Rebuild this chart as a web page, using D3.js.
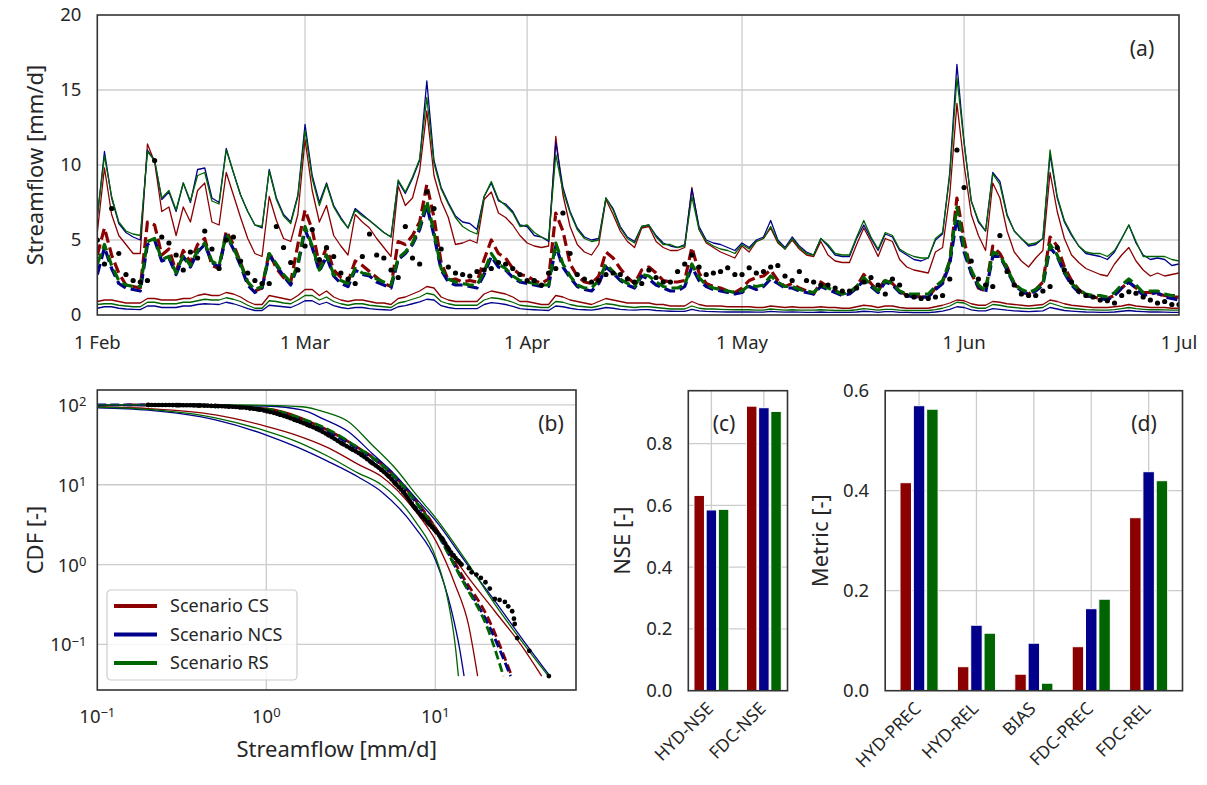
<!DOCTYPE html>
<html lang="en">
<head>
<meta charset="utf-8">
<title>Streamflow scenarios</title>
<script src="https://cdnjs.cloudflare.com/ajax/libs/d3/7.8.5/d3.min.js"></script>
<style>
  body { margin: 0; background: #fff; }
  svg text { font-family: "Noto Sans", "Open Sans", sans-serif; fill: #262626; }
</style>
</head>
<body>
<div id="chart"></div>
<script>
// ---------- data: daily streamflow, 1 Feb .. 1 Jul (mm/d) ----------
var startDate = new Date(Date.UTC(2016, 1, 1));
var endDate = new Date(Date.UTC(2016, 6, 1));

var hiRed = [5.5,9.8,6.7,5.3,4.7,4.1,4.1,11.4,10.2,6.9,
 7.2,5.3,7.2,6.2,8.3,8.8,6.2,6.0,9.5,8.0,
 6.5,5.1,4.1,3.9,7.9,6.3,5.1,4.9,6.7,11.7,
 8.3,6.2,7.3,5.3,4.6,4.0,6.7,6.2,5.8,5.1,
 4.5,3.9,8.6,7.3,7.8,9.6,13.6,9.3,7.6,6.5,
 4.7,4.8,5.0,4.8,7.7,8.2,6.8,6.5,6.0,5.3,
 4.8,4.6,4.5,4.6,11.9,8.0,5.9,4.7,4.2,4.0,
 4.7,7.7,6.7,5.6,4.9,4.5,5.8,5.9,4.9,4.5,
 4.3,4.3,4.5,8.5,5.7,4.8,4.5,4.2,4.0,3.8,
 4.6,4.2,4.9,5.1,5.8,4.8,4.4,5.0,4.4,4.0,
 3.9,4.9,4.0,3.6,3.5,3.5,4.7,5.8,4.9,3.9,
 5.1,4.9,3.7,3.2,3.0,2.9,2.8,4.2,4.5,8.0,
 14.1,10.0,6.7,5.3,4.3,8.8,7.8,5.6,4.2,3.6,
 3.2,3.8,4.3,9.5,6.9,5.1,4.0,3.5,3.1,2.9,
 2.7,2.6,3.4,4.0,4.5,3.6,3.0,2.6,2.8,2.6,
 2.7,2.8];
var hiBlue = [6.5,10.9,7.8,6.1,5.5,5.2,5.0,11.0,10.3,7.7,
 8.2,6.9,8.8,7.5,9.7,9.8,7.8,7.5,11.1,9.5,
 8.0,6.9,6.0,5.8,9.7,7.8,6.7,6.2,8.0,12.7,
 9.3,7.5,8.8,7.3,6.5,5.8,7.1,6.7,6.3,5.9,
 5.5,5.2,8.9,8.1,9.1,10.3,15.6,10.3,8.5,7.5,
 6.6,6.2,6.1,5.7,7.9,8.8,7.6,7.4,6.9,6.0,
 5.9,5.3,5.2,4.9,11.5,8.5,6.9,5.8,5.2,5.0,
 5.1,7.8,7.1,5.9,5.2,4.9,5.9,6.0,5.3,4.8,
 4.6,4.5,4.7,8.4,5.9,5.0,4.8,4.7,4.5,4.3,
 4.8,4.5,5.0,5.2,6.3,5.0,4.5,5.2,4.6,4.2,
 4.0,5.1,4.6,4.0,3.9,3.9,5.1,6.0,5.1,4.3,
 5.4,5.2,4.3,4.0,3.7,3.6,3.8,5.0,5.4,9.5,
 16.7,11.5,7.6,6.2,5.6,9.5,8.9,6.7,5.6,5.1,
 4.6,4.7,5.1,10.7,7.8,6.2,5.3,4.6,4.1,4.0,
 3.9,3.7,4.2,5.1,6.0,4.8,4.0,3.7,3.8,3.7,
 3.3,3.4];
var hiGreen = [6.6,10.6,7.9,6.2,5.6,5.4,5.3,10.9,10.3,7.8,
 8.3,7.0,8.8,7.6,9.3,9.5,7.6,7.4,11.0,9.5,
 8.0,6.9,6.0,5.9,9.6,7.7,6.6,6.1,7.9,12.3,
 9.1,7.3,8.7,7.2,6.4,5.8,7.0,6.6,6.3,5.9,
 5.5,5.2,9.0,8.2,9.2,10.4,14.5,10.1,8.4,7.4,
 6.5,5.9,5.6,5.4,7.9,8.9,7.7,7.3,6.8,5.9,
 6.0,5.5,5.2,5.0,10.7,8.3,6.8,5.7,5.1,4.9,
 5.0,7.8,7.0,5.8,5.1,4.8,5.9,6.0,5.2,4.7,
 4.7,4.5,4.6,7.9,5.7,4.9,4.6,4.4,4.3,4.1,
 4.7,4.4,4.9,5.1,5.9,4.9,4.4,5.1,4.5,4.1,
 4.0,5.1,4.7,4.1,4.0,4.0,5.2,6.3,5.2,4.4,
 5.5,5.3,4.4,4.1,3.9,3.8,3.8,5.1,5.5,9.3,
 15.8,11.5,7.6,6.3,5.6,9.4,8.7,6.6,5.6,5.1,
 4.7,4.8,5.1,11.0,7.9,6.3,5.4,4.6,4.2,4.1,
 4.1,3.9,4.3,5.1,6.0,4.9,3.9,3.9,3.9,3.9,
 3.7,3.6];

var medRed = [4.0,5.8,4.0,2.8,2.0,1.9,1.8,6.2,6.0,4.0,
 4.4,2.9,4.3,3.5,4.7,5.1,3.3,3.1,5.6,4.7,
 3.5,2.2,1.6,1.8,4.2,3.1,2.5,2.2,4.7,7.0,
 5.7,3.3,4.5,3.0,2.5,2.2,3.6,3.3,2.9,2.5,
 2.1,1.9,4.9,4.7,5.3,6.2,8.7,6.5,3.5,2.3,
 2.4,2.2,2.3,2.2,3.7,5.0,4.1,3.8,3.1,2.7,
 2.6,2.3,2.1,2.4,6.8,5.6,3.4,2.6,2.2,2.1,
 2.6,4.2,3.8,3.1,2.5,2.1,3.0,3.2,2.8,2.3,
 2.2,2.2,2.3,4.5,2.8,2.1,1.9,1.8,1.6,1.5,
 1.8,2.3,2.5,2.6,3.0,2.3,1.9,2.1,1.8,1.6,
 1.4,2.2,1.9,1.6,1.4,1.5,1.9,2.7,2.1,1.6,
 2.4,2.1,1.6,1.3,1.3,1.2,1.2,1.8,2.2,3.6,
 7.8,5.0,2.8,1.8,1.6,4.6,4.1,3.2,2.1,1.5,
 1.4,1.7,2.2,5.2,4.6,3.2,2.3,1.7,1.3,1.2,
 1.1,1.1,1.3,1.8,2.2,1.8,1.5,1.5,1.4,1.3,
 1.2,1.2];
var medBlue = [2.7,4.5,3.1,2.1,1.8,1.7,1.6,4.7,5.0,3.6,
 3.8,2.7,3.9,3.2,4.2,4.7,3.5,3.2,5.3,4.4,
 3.3,2.0,1.5,1.8,4.0,3.3,2.6,2.0,3.3,5.7,
 4.5,2.9,3.9,2.6,2.1,1.9,3.0,2.7,2.6,2.2,
 2.0,1.8,3.7,4.1,4.7,5.7,7.3,5.3,3.0,2.2,
 2.0,2.0,1.9,1.8,2.7,3.9,3.2,3.0,2.5,2.2,
 2.1,2.0,1.9,1.9,4.6,3.2,2.5,1.9,1.7,1.6,
 2.1,3.2,2.8,2.3,2.0,1.8,2.6,2.4,2.0,1.8,
 1.6,1.6,1.9,3.2,2.3,1.9,1.7,1.6,1.5,1.4,
 1.5,1.9,1.7,1.9,2.4,2.1,1.8,1.8,1.6,1.5,
 1.4,1.9,1.7,1.5,1.3,1.4,1.8,2.3,1.9,1.5,
 2.2,2.0,1.5,1.3,1.2,1.2,1.2,1.7,2.1,3.4,
 6.5,4.2,2.8,1.9,1.5,3.9,3.9,3.0,2.0,1.6,
 1.4,1.6,2.0,4.5,3.9,2.8,2.0,1.5,1.3,1.2,
 1.1,1.0,1.3,1.8,2.2,1.8,1.3,1.4,1.5,1.2,
 1.1,1.0];
var medGreen = [3.4,4.7,3.3,2.3,2.0,1.9,1.9,4.9,5.1,3.7,
 3.9,2.8,4.0,3.3,4.3,4.8,3.6,3.3,5.4,4.5,
 3.4,2.2,1.7,1.9,4.1,3.4,2.7,2.2,3.4,5.9,
 4.6,3.0,4.0,2.7,2.3,2.1,3.1,2.8,2.7,2.4,
 2.2,2.0,3.8,4.2,4.8,5.9,7.6,5.5,3.1,2.4,
 2.2,2.1,2.0,2.0,2.9,4.1,3.4,3.1,2.6,2.3,
 2.2,2.1,2.0,2.0,4.8,3.4,2.6,2.0,1.8,1.8,
 2.3,3.4,2.9,2.4,2.1,1.9,2.7,2.6,2.2,1.9,
 1.8,1.8,2.0,3.4,2.5,2.0,1.8,1.7,1.6,1.5,
 1.6,2.0,1.9,2.0,2.6,2.2,1.9,1.9,1.7,1.6,
 1.5,2.0,1.8,1.6,1.4,1.5,1.9,2.5,2.0,1.6,
 2.3,2.1,1.6,1.4,1.4,1.4,1.4,1.9,2.3,3.6,
 7.2,4.5,3.0,2.0,1.6,4.2,4.0,3.1,2.1,1.7,
 1.5,1.7,2.1,4.7,4.0,2.9,2.1,1.7,1.4,1.3,
 1.3,1.2,1.5,2.0,2.4,2.0,1.5,1.6,1.6,1.4,
 1.3,1.3];

var loRed = [0.9,1.0,1.0,0.9,0.8,0.8,0.8,1.1,1.1,1.0,
 1.0,1.0,1.1,1.1,1.3,1.4,1.3,1.3,1.5,1.4,
 1.2,0.9,0.7,0.7,1.3,1.2,1.1,1.0,1.3,1.7,
 1.7,1.3,1.6,1.2,1.0,0.9,1.0,1.0,0.9,0.8,
 0.8,0.7,1.1,1.2,1.4,1.6,1.9,1.8,1.2,1.0,
 0.9,0.9,0.9,0.9,1.4,1.6,1.5,1.4,1.2,0.9,
 0.9,0.8,0.7,0.7,1.3,1.2,1.0,0.9,0.8,0.7,
 0.9,1.1,1.0,0.9,0.8,0.8,0.8,0.8,0.7,0.7,
 0.6,0.6,0.6,0.9,0.7,0.6,0.6,0.6,0.55,0.55,
 0.55,0.55,0.5,0.5,0.6,0.55,0.5,0.55,0.5,0.5,
 0.5,0.55,0.5,0.5,0.45,0.45,0.55,0.65,0.6,0.5,
 0.6,0.6,0.5,0.45,0.45,0.45,0.45,0.55,0.65,0.8,
 1.0,0.95,0.75,0.65,0.65,0.9,0.85,0.75,0.7,0.65,
 0.6,0.65,0.7,1.0,0.9,0.75,0.65,0.6,0.55,0.5,
 0.5,0.5,0.55,0.6,0.7,0.6,0.55,0.5,0.5,0.5,
 0.45,0.45];
var loBlue = [0.45,0.55,0.55,0.45,0.4,0.38,0.36,0.6,0.6,0.5,
 0.5,0.5,0.6,0.6,0.7,0.75,0.72,0.7,0.85,0.75,
 0.6,0.42,0.3,0.3,0.65,0.6,0.55,0.5,0.7,0.95,
 0.95,0.7,0.85,0.62,0.5,0.42,0.5,0.5,0.42,0.38,
 0.35,0.32,0.55,0.62,0.75,0.88,1.05,1.0,0.62,0.5,
 0.42,0.42,0.42,0.42,0.7,0.82,0.78,0.7,0.58,0.42,
 0.38,0.35,0.32,0.3,0.6,0.55,0.45,0.38,0.35,0.32,
 0.4,0.5,0.45,0.38,0.34,0.32,0.36,0.36,0.3,0.27,
 0.25,0.24,0.24,0.38,0.28,0.24,0.22,0.21,0.2,0.2,
 0.2,0.2,0.19,0.19,0.24,0.21,0.19,0.2,0.19,0.18,
 0.18,0.2,0.18,0.17,0.17,0.17,0.2,0.25,0.22,0.18,
 0.22,0.22,0.18,0.17,0.16,0.16,0.16,0.2,0.26,0.38,
 0.55,0.5,0.34,0.27,0.27,0.42,0.38,0.32,0.28,0.25,
 0.23,0.25,0.28,0.5,0.4,0.3,0.26,0.23,0.2,0.19,
 0.18,0.18,0.2,0.25,0.3,0.25,0.22,0.2,0.2,0.19,
 0.18,0.18];
var loGreen = [0.7,0.75,0.75,0.65,0.6,0.55,0.55,0.85,0.85,0.75,
 0.75,0.75,0.85,0.85,0.95,1.05,1.0,1.0,1.15,1.05,
 0.9,0.65,0.45,0.45,0.95,0.9,0.8,0.75,1.0,1.3,
 1.3,1.0,1.2,0.9,0.75,0.65,0.75,0.75,0.65,0.6,
 0.55,0.5,0.8,0.9,1.05,1.2,1.45,1.35,0.9,0.75,
 0.65,0.65,0.65,0.65,1.0,1.15,1.1,1.0,0.85,0.65,
 0.6,0.55,0.5,0.5,0.9,0.85,0.7,0.6,0.55,0.5,
 0.6,0.75,0.7,0.6,0.55,0.5,0.55,0.55,0.5,0.45,
 0.4,0.4,0.4,0.6,0.45,0.4,0.4,0.38,0.36,0.35,
 0.35,0.35,0.33,0.33,0.4,0.36,0.33,0.35,0.33,0.32,
 0.32,0.35,0.32,0.3,0.3,0.3,0.35,0.42,0.38,0.32,
 0.38,0.38,0.32,0.3,0.3,0.3,0.3,0.36,0.45,0.6,
 0.85,0.8,0.55,0.45,0.45,0.7,0.65,0.55,0.5,0.45,
 0.42,0.45,0.5,0.8,0.65,0.5,0.45,0.4,0.36,0.34,
 0.33,0.33,0.36,0.42,0.5,0.42,0.38,0.35,0.35,0.34,
 0.32,0.32];

var obsFlow = [5.0,3.4,7.1,4.1,2.7,2.3,2.2,2.3,10.3,5.2,
 4.8,4.0,3.0,4.2,3.8,5.6,4.4,3.1,5.0,5.2,
 3.6,2.8,2.3,2.1,2.1,5.9,4.5,3.5,3.0,4.6,
 5.7,3.7,4.5,3.9,2.8,2.4,2.1,3.9,5.4,4.0,
 3.8,3.0,2.5,5.9,3.8,3.4,8.2,7.1,4.4,3.2,
 2.8,2.7,2.6,2.9,3.0,3.1,3.5,3.4,3.1,2.7,
 2.3,2.3,2.0,2.8,3.1,6.8,4.1,2.7,2.4,2.2,
 2.3,2.7,2.8,2.7,2.4,2.2,2.1,3.0,2.5,2.2,
 2.2,2.9,3.4,4.0,3.2,2.7,2.8,2.9,3.15,2.7,
 2.7,3.15,2.8,2.9,3.2,3.3,2.6,2.3,2.9,2.3,
 2.2,2.0,2.0,1.8,1.6,1.6,1.8,2.2,2.5,2.0,
 1.4,2.4,2.0,1.3,1.2,1.1,1.1,1.2,1.3,2.4,
 11.0,8.5,3.6,2.4,2.0,1.9,5.3,2.9,2.0,1.4,
 1.3,1.3,1.6,1.9,4.5,3.0,2.2,1.6,1.3,1.2,
 1.0,0.95,0.8,1.3,1.55,1.45,1.2,1.0,0.8,0.9,
 0.7,0.7];

// ---------- data: exceedance curves (streamflow mm/d vs CDF) ----------
var cdfRedLoX = [0.1,0.2,0.5,1.0,1.5,2.33,3.5,4.8,7.6,10.1,13.1,15.7,17.8];
var cdfRedLoY = [95,90,75,54,42,29,18,12.7,4.7,1.95,0.56,0.178,0.04];
var cdfBlueLoX = [0.1,0.2,0.5,1.0,1.5,2.33,3.5,4.8,7.6,10.1,12.5,14.0,14.8];
var cdfBlueLoY = [92,86,65,42,30,19.5,12.5,8.2,2.9,1.1,0.26,0.083,0.04];
var cdfGreenLoX = [0.1,0.2,0.5,1.0,1.5,2.33,3.5,4.8,7.6,10.1,11.9,13.1,13.7];
var cdfGreenLoY = [94,88,69,47,35,22.6,14,10,3.5,1.2,0.35,0.1,0.04];

var cdfRedMedX = [0.15,0.38,0.6,1.0,1.6,2.33,3.5,4.8,7.6,10.1,14.3,20.6,28.3];
var cdfRedMedY = [100,100,96,88,67,48,29,18.5,6.5,2.8,0.75,0.21,0.04];
var cdfBlueMedX = [0.1,0.38,0.6,1.0,1.6,2.33,3.5,4.8,7.6,10.1,14.3,20.6,27.9];
var cdfBlueMedY = [100,100,96,87,66,46,28,17.8,6.2,2.6,0.68,0.178,0.04];
var cdfGreenMedX = [0.2,0.4,0.6,1.0,1.6,2.33,3.5,4.8,7.6,10.1,14.3,20.6,25.3];
var cdfGreenMedY = [100,100,96,89,68,49,29,18,6.3,2.6,0.66,0.15,0.04];

var cdfRedHiX = [0.1,0.5,1.0,1.6,2.33,3.5,4.8,7.6,10.1,14.3,22.5,32,42.6];
var cdfRedHiY = [99,97,91,70,47,29,17.5,6.4,2.9,0.9,0.26,0.1,0.04];
var cdfBlueHiX = [0.1,0.5,1.0,1.62,2.2,3.05,4.2,5.78,7.8,10.1,15.0,22.5,32.4,47.7];
var cdfBlueHiY = [100,99,97,86.6,66,46.4,25,13.3,6.5,3.5,1.1,0.35,0.12,0.04];
var cdfGreenHiX = [0.1,0.5,1.0,1.62,2.2,3.05,4.2,5.78,7.8,10.1,15.0,22.5,32.4,46.7];
var cdfGreenHiY = [100,100,99,95,82,62,32,16.2,7.3,3.8,1.17,0.32,0.11,0.04];

var cdfObsX = [0.2,0.3,0.4,0.5,0.6,0.7,0.8,0.9,1.0,1.2,1.48,1.8,2.0,2.33,2.8,3.2,3.66,4.2,4.8,
 5.3,5.78,6.5,7.6,8.3,9.1,10.1,11.0,11.9,12.8,13.7,14.3,15.8,16.4,17.5,18.6,19.8,21.0,22.5,
 24.0,25.8,27.0,28.5,29.2,29.5,30.5,36.0,47.0];
var cdfObsY = [100,99.5,98.5,97,95.5,93.5,91,88,84,76,65,55,50,42,33,28,23.7,19,15.4,
 12.8,10.5,8,5.1,4.1,3.3,2.6,2.1,1.6,1.3,1.1,1.0,0.9,0.8,0.75,0.68,0.6,0.5,0.37,
 0.36,0.34,0.3,0.26,0.21,0.18,0.12,0.083,0.04];

// ---------- data: scores ----------
var scenarios = ["Scenario CS", "Scenario NCS", "Scenario RS"];
var colors = ["#8b0000", "#00008b", "#006400"];

var nseLabels = ["HYD-NSE", "FDC-NSE"];
var nseCS = [0.632, 0.921];
var nseNCS = [0.585, 0.916];
var nseRS = [0.587, 0.904];

var metricLabels = ["HYD-PREC", "HYD-REL", "BIAS", "FDC-PREC", "FDC-REL"];
var metricCS = [0.416, 0.048, 0.033, 0.088, 0.346];
var metricNCS = [0.570, 0.131, 0.095, 0.164, 0.438];
var metricRS = [0.563, 0.115, 0.015, 0.183, 0.420];

// ---------- drawing ----------
var svg = d3.select("#chart").append("svg")
    .attr("width", 1207)
    .attr("height", 785);

var gridColor = "#cccccc", spineColor = "#333333";
var tickSize = 18.5, labelSize = 22;

function frame(x0, y0, x1, y1) {
    svg.append("rect")
        .attr("x", x0).attr("y", y0)
        .attr("width", x1 - x0).attr("height", y1 - y0)
        .attr("fill", "none")
        .attr("stroke", spineColor)
        .attr("stroke-width", 1.6);
}

function hGrid(vals, scale, x0, x1) {
    svg.append("g").selectAll("line").data(vals).enter().append("line")
        .attr("x1", x0).attr("x2", x1)
        .attr("y1", function(d) { return scale(d); })
        .attr("y2", function(d) { return scale(d); })
        .attr("stroke", gridColor).attr("stroke-width", 1.3);
}

function vGrid(vals, scale, y0, y1) {
    svg.append("g").selectAll("line").data(vals).enter().append("line")
        .attr("y1", y0).attr("y2", y1)
        .attr("x1", function(d) { return scale(d); })
        .attr("x2", function(d) { return scale(d); })
        .attr("stroke", gridColor).attr("stroke-width", 1.3);
}

function yLabel(text, x, y) {
    svg.append("text")
        .attr("transform", "translate(" + x + "," + y + ") rotate(-90)")
        .attr("text-anchor", "middle")
        .style("font-size", labelSize + "px")
        .text(text);
}

function panelTag(text, x, y) {
    svg.append("text").attr("x", x).attr("y", y)
        .attr("text-anchor", "middle")
        .style("font-size", "21px")
        .text(text);
}

// 10^e label with a superscript exponent
function powLabel(sel, e) {
    sel.append("tspan").text("10");
    sel.append("tspan")
        .attr("dy", "-0.45em")
        .style("font-size", "0.7em")
        .text(e < 0 ? "\u2212" + (-e) : String(e));
}

// ===== panel (a): hydrograph =====
var ax0 = 97.3, ax1 = 1179, ay0 = 15, ay1 = 315;
var xA = d3.scaleUtc().domain([startDate, endDate]).range([ax0, ax1]);
var yA = d3.scaleLinear().domain([0, 20]).range([ay1, ay0]);
var months = d3.utcMonth.range(startDate, d3.utcDay.offset(endDate, 1));
var days = d3.range(obsFlow.length).map(function(i) { return d3.utcDay.offset(startDate, i); });

hGrid([5, 10, 15], yA, ax0, ax1);
vGrid(months.slice(1, -1), xA, ay0, ay1);

svg.append("defs").append("clipPath").attr("id", "clipA")
    .append("rect").attr("x", ax0).attr("y", ay0)
    .attr("width", ax1 - ax0).attr("height", ay1 - ay0);

var lineA = d3.line()
    .x(function(d, i) { return xA(days[i]); })
    .y(function(d) { return yA(d); });

var gA = svg.append("g").attr("clip-path", "url(#clipA)");
var seriesA = [
    [loRed, hiRed, medRed],
    [loBlue, hiBlue, medBlue],
    [loGreen, hiGreen, medGreen]
];
seriesA.forEach(function(set, s) {
    set.forEach(function(arr, k) {
        var p = gA.append("path").datum(arr)
            .attr("d", lineA)
            .attr("fill", "none")
            .attr("stroke", colors[s])
            .attr("stroke-linejoin", "round");
        if (k === 2) {
            p.attr("stroke-width", 3.2).attr("stroke-dasharray", "11,5");
        } else {
            p.attr("stroke-width", 1.3);
        }
    });
});

gA.selectAll(".obs").data(obsFlow).enter().append("circle")
    .attr("class", "obs")
    .attr("cx", function(d, i) { return xA(days[i]); })
    .attr("cy", function(d) { return yA(d); })
    .attr("r", 2.6)
    .attr("fill", "#000");

// axes of (a)
svg.append("g").selectAll("text").data([0, 5, 10, 15, 20]).enter().append("text")
    .attr("x", ax0 - 16)
    .attr("y", function(d) { return yA(d); })
    .attr("dy", "0.35em")
    .attr("text-anchor", "end")
    .style("font-size", tickSize + "px")
    .text(function(d) { return d; });

svg.append("g").selectAll("text").data(months).enter().append("text")
    .attr("x", function(d) { return xA(d); })
    .attr("y", ay1 + 34)
    .attr("text-anchor", "middle")
    .style("font-size", tickSize + "px")
    .text(d3.utcFormat("%-d %b"));

yLabel("Streamflow [mm/d]", 43, (ay0 + ay1) / 2);
frame(ax0, ay0, ax1, ay1);
panelTag("(a)", 1142, 56);

// ===== panel (b): exceedance curves =====
var bx0 = 97.3, bx1 = 576, by0 = 390, by1 = 690;
var xB = d3.scaleLog().domain([0.1, 68]).range([bx0, bx1]);
var yB = d3.scaleLog().domain([0.0268, 154]).range([by1, by0]);

hGrid([0.1, 1, 10, 100], yB, bx0, bx1);
vGrid([1, 10], xB, by0, by1);

svg.select("defs").append("clipPath").attr("id", "clipB")
    .append("rect").attr("x", bx0).attr("y", by0)
    .attr("width", bx1 - bx0).attr("height", by1 - by0);

var lineB = d3.line()
    .x(function(d) { return xB(d[0]); })
    .y(function(d) { return yB(d[1]); })
    .curve(d3.curveMonotoneX);

function pairs(xs, ys) { return xs.map(function(x, i) { return [x, ys[i]]; }); }

var seriesB = [
    [pairs(cdfRedLoX, cdfRedLoY), pairs(cdfRedHiX, cdfRedHiY), pairs(cdfRedMedX, cdfRedMedY)],
    [pairs(cdfBlueLoX, cdfBlueLoY), pairs(cdfBlueHiX, cdfBlueHiY), pairs(cdfBlueMedX, cdfBlueMedY)],
    [pairs(cdfGreenLoX, cdfGreenLoY), pairs(cdfGreenHiX, cdfGreenHiY), pairs(cdfGreenMedX, cdfGreenMedY)]
];
var gB = svg.append("g").attr("clip-path", "url(#clipB)");
seriesB.forEach(function(set, s) {
    set.forEach(function(pts, k) {
        var p = gB.append("path").datum(pts)
            .attr("d", lineB)
            .attr("fill", "none")
            .attr("stroke", colors[s]);
        if (k === 2) {
            p.attr("stroke-width", 2.8).attr("stroke-dasharray", "9,4");
        } else {
            p.attr("stroke-width", 1.3);
        }
    });
});

// observed: dense dotted part plus single dots
var obsPts = pairs(cdfObsX, cdfObsY);
gB.append("path")
    .datum(obsPts.filter(function(d) { return d[0] <= 14.3; }))
    .attr("d", lineB)
    .attr("fill", "none")
    .attr("stroke", "#000")
    .attr("stroke-width", 4.6)
    .attr("stroke-linecap", "round")
    .attr("stroke-dasharray", "0.1,3.4");
gB.selectAll(".cdfobs").data(obsPts).enter().append("circle")
    .attr("class", "cdfobs")
    .attr("cx", function(d) { return xB(d[0]); })
    .attr("cy", function(d) { return yB(d[1]); })
    .attr("r", 2.4)
    .attr("fill", "#000");

// tick labels (b)
svg.append("g").selectAll("text").data([2, 1, 0, -1]).enter().append("text")
    .attr("x", bx0 - 11)
    .attr("y", function(d) { return yB(Math.pow(10, d)) + 7; })
    .attr("text-anchor", "end")
    .style("font-size", tickSize + "px")
    .each(function(d) { powLabel(d3.select(this), d); });

svg.append("g").selectAll("text").data([-1, 0, 1]).enter().append("text")
    .attr("x", function(d) { return xB(Math.pow(10, d)); })
    .attr("y", by1 + 33)
    .attr("text-anchor", "middle")
    .style("font-size", tickSize + "px")
    .each(function(d) { powLabel(d3.select(this), d); });

svg.append("text")
    .attr("x", (bx0 + bx1) / 2).attr("y", 757)
    .attr("text-anchor", "middle")
    .style("font-size", labelSize + "px")
    .text("Streamflow [mm/d]");
yLabel("CDF [-]", 43, (by0 + by1) / 2);
frame(bx0, by0, bx1, by1);
panelTag("(b)", 551, 431);

// legend (b)
var legend = svg.append("g").attr("transform", "translate(107,590)");
legend.append("rect")
    .attr("width", 190).attr("height", 90).attr("rx", 4)
    .attr("fill", "#fff").attr("fill-opacity", 0.8)
    .attr("stroke", "#cccccc").attr("stroke-width", 1.2);
scenarios.forEach(function(name, i) {
    var y = 16 + i * 28.5;
    legend.append("line")
        .attr("x1", 7).attr("x2", 50).attr("y1", y).attr("y2", y)
        .attr("stroke", colors[i]).attr("stroke-width", 4);
    legend.append("text")
        .attr("x", 63).attr("y", y).attr("dy", "0.35em")
        .style("font-size", "18px")
        .text(name);
});

// ===== bar panels (c) and (d) =====
var barOffsets = [-0.232, 0, 0.232], barWidth = 0.2;

function barPanel(opt) {
    var x = d3.scaleLinear().domain(opt.xDomain).range([opt.x0, opt.x1]);
    var y = d3.scaleLinear().domain(opt.yDomain).range([opt.y1, opt.y0]);
    var idx = d3.range(opt.labels.length);

    hGrid(opt.yTicks.slice(1), y, opt.x0, opt.x1);
    vGrid(idx, x, opt.y0, opt.y1);

    opt.values.forEach(function(vals, s) {
        svg.append("g").selectAll("rect").data(vals).enter().append("rect")
            .attr("x", function(d, i) { return x(i + barOffsets[s] - barWidth / 2); })
            .attr("width", x(barWidth) - x(0))
            .attr("y", function(d) { return y(d); })
            .attr("height", function(d) { return y(0) - y(d); })
            .attr("fill", colors[s])
            .attr("stroke", "#fff")
            .attr("stroke-width", 1);
    });

    svg.append("g").selectAll("text").data(opt.yTicks).enter().append("text")
        .attr("x", opt.x0 - 16)
        .attr("y", function(d) { return y(d); })
        .attr("dy", "0.35em")
        .attr("text-anchor", "end")
        .style("font-size", tickSize + "px")
        .text(d3.format(".1f"));

    svg.append("g").selectAll("text").data(opt.labels).enter().append("text")
        .attr("transform", function(d, i) {
            return "translate(" + (x(i) + 3) + "," + (opt.y1 + 19) + ") rotate(-45)";
        })
        .attr("text-anchor", "end")
        .style("font-size", "17.5px")
        .text(function(d) { return d; });

    yLabel(opt.title, opt.titleX, (opt.y0 + opt.y1) / 2);
    frame(opt.x0, opt.y0, opt.x1, opt.y1);
    panelTag(opt.tag, opt.tagX, 431);
}

barPanel({
    x0: 688.3, x1: 787.5, y0: 390.7, y1: 690.7,
    xDomain: [-0.44, 1.45], yDomain: [0, 0.971],
    yTicks: [0, 0.2, 0.4, 0.6, 0.8],
    labels: nseLabels, values: [nseCS, nseNCS, nseRS],
    title: "NSE [-]", titleX: 630, tag: "(c)", tagX: 724
});

barPanel({
    x0: 885.2, x1: 1182.5, y0: 390.7, y1: 690.7,
    xDomain: [-0.59, 4.59], yDomain: [0, 0.6],
    yTicks: [0, 0.2, 0.4, 0.6],
    labels: metricLabels, values: [metricCS, metricNCS, metricRS],
    title: "Metric [-]", titleX: 828, tag: "(d)", tagX: 1144
});
</script>
</body>
</html>
